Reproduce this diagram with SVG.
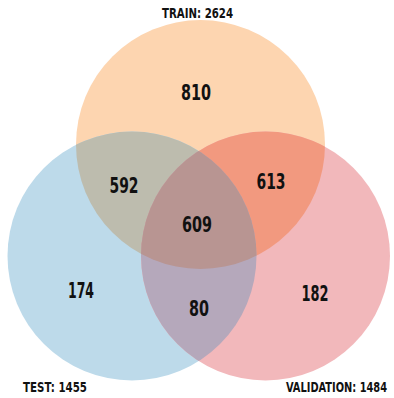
<svg xmlns="http://www.w3.org/2000/svg" width="394" height="398" viewBox="0 0 394 398">
<style>
.n{font-family:"DejaVu Sans Condensed","Liberation Sans",sans-serif;font-weight:bold;fill:#111;text-anchor:middle;font-size:20.5px}
.l{font-family:"DejaVu Sans Condensed","Liberation Sans",sans-serif;font-weight:bold;fill:#111;font-size:14.5px}
</style>
<defs>
<clipPath id="cT"><circle cx="200.5" cy="144.5" r="124.5"/></clipPath>
<clipPath id="cV"><circle cx="265.5" cy="256" r="124.5"/></clipPath>
</defs>
<rect width="394" height="398" fill="#ffffff"/>
<g id="train"><circle cx="200.5" cy="144.5" r="124.5" fill="#fdd5b0"/></g>
<g id="test"><circle cx="132" cy="256" r="124.5" fill="#bddaea"/></g>
<g id="validation"><circle cx="265.5" cy="256" r="124.5" fill="#f2b8bb"/></g>
<g id="overlaps">
<g clip-path="url(#cT)"><circle cx="132" cy="256" r="124.5" fill="#bdbcae"/><circle cx="265.5" cy="256" r="124.5" fill="#f2997f"/></g>
<g clip-path="url(#cV)"><circle cx="132" cy="256" r="124.5" fill="#b5a8bb"/></g>
<g clip-path="url(#cT)"><g clip-path="url(#cV)"><circle cx="132" cy="256" r="124.5" fill="#b89592"/></g></g>
</g>
<g id="connectors"></g>
<g id="labels">
<text class="l" x="162" y="18" textLength="71" lengthAdjust="spacingAndGlyphs">TRAIN: 2624</text>
<text class="l" x="23" y="392" textLength="64" lengthAdjust="spacingAndGlyphs">TEST: 1455</text>
<text class="l" x="286" y="392" textLength="101" lengthAdjust="spacingAndGlyphs">VALIDATION: 1484</text>
</g>
<g id="counts">
<text class="n" x="196" y="100" textLength="30" lengthAdjust="spacingAndGlyphs">810</text>
<text class="n" x="124" y="193" textLength="29" lengthAdjust="spacingAndGlyphs">592</text>
<text class="n" x="271" y="189" textLength="29" lengthAdjust="spacingAndGlyphs">613</text>
<text class="n" x="197" y="232" textLength="30" lengthAdjust="spacingAndGlyphs">609</text>
<text class="n" x="81" y="298" textLength="26" lengthAdjust="spacingAndGlyphs">174</text>
<text class="n" x="199" y="316" textLength="20" lengthAdjust="spacingAndGlyphs">80</text>
<text class="n" x="315" y="301" textLength="27" lengthAdjust="spacingAndGlyphs">182</text>
</g>
</svg>
